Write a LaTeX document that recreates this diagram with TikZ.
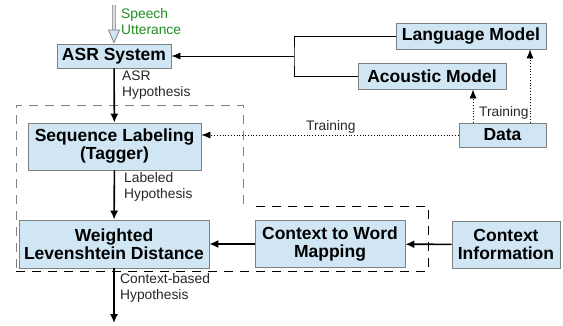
\documentclass[tikz,border=0pt]{standalone}
\usepackage{fontspec}
\setmainfont{Liberation Sans}
\usetikzlibrary{arrows.meta, positioning}

\definecolor{boxfill}{RGB}{208,230,244}
\definecolor{speechgreen}{RGB}{30,140,30}

\begin{document}
\begin{tikzpicture}[x=1pt, y=-1pt,
  block/.style={rectangle, draw=gray, fill=boxfill, line width=0.8pt, inner sep=0pt, text centered, align=center,
    font=\fontsize{17.5}{18}\selectfont\bfseries},
  lbl/.style={anchor=west, align=left, inner sep=0pt, font=\fontsize{13.8}{16}\selectfont, text=black!85},
  arrow/.style={line width=1.6pt, -{Latex[length=9pt, width=8pt]}},
  thinarrow/.style={line width=0.8pt, -{Latex[length=9pt, width=7pt]}},
  dotarrow/.style={line width=0.8pt, dotted, -{Latex[length=9pt, width=7pt]}},
  region/.style={dashed, line width=0.8pt, dash pattern=on 9pt off 7pt}]

  \useasboundingbox (0,0) rectangle (563,325);

  % Nodes
  \node (asr) [block, minimum width=114pt, minimum height=24pt] at (114,56) {ASR System};
  \node (lm) [block, minimum width=150pt, minimum height=26pt] at (471,36) {Language Model};
  \node (am) [block, minimum width=148pt, minimum height=26pt] at (432,76) {Acoustic Model};
  \node (data) [block, minimum width=87pt, minimum height=24pt] at (502.5,135) {Data};
  \node (tagger) [block, minimum width=173pt, minimum height=47pt] at (114.5,146.5) {Sequence Labeling\\(Tagger)};
  \node (wld) [block, minimum width=190pt, minimum height=48pt] at (114,244) {Weighted\\Levenshtein Distance};
  \node (cwm) [block, minimum width=150pt, minimum height=47pt] at (330,244) {Context to Word\\Mapping};
  \node (ctx) [block, minimum width=108pt, minimum height=47pt] at (506,244.5) {Context\\Information};
  \coordinate (speech) at (114,5);
  \coordinate (out) at (114,323);
  \coordinate (fork) at (294,56);

  % Regions
  \draw [region, gray] (243,204) -- (243,105) -- (16,105) -- (16,271);
  \draw [region] (16,271) -- (428,271) -- (428,206) -- (250,206);

  % Arrows
  \draw [line width=4pt, gray!70, shorten >=12pt] (speech) -- (asr.north);
  \draw [line width=2pt, gray!25, shorten >=12pt] (speech) -- (asr.north);
  \draw [line width=0.8pt, gray, shorten <=25pt, -{Triangle[open, fill=boxfill, length=14pt, width=12pt]}] (speech) -- (asr.north);
  \draw [arrow] (asr) -- (tagger);
  \draw [arrow] (tagger) -- (wld);
  \draw [arrow] (cwm) -- (wld);
  \draw [arrow] (ctx) -- (cwm);
  \draw [arrow] (wld) -- (out);
  \draw [line width=0.8pt] (lm.west) -| (fork) |- (am.west);
  \draw [thinarrow] (fork) -- (asr.east);
  \draw [dotarrow] (data.west) -- (data.west -| tagger.east);
  \draw [dotarrow] (data.north -| 473,0) -- (am.south -| 473,0);
  \draw [dotarrow] (data.north -| 530,0) -- (lm.south -| 530,0);

  % Labels
  \node (lspeech) [lbl, text=speechgreen] at (121,22) {Speech\\Utterance};
  \node (lasr) [lbl] at (122,85) {ASR\\Hypothesis};
  \node (ltag) [lbl] at (124,187) {Labeled\\Hypothesis};
  \node (lout) [lbl] at (120,288) {Context-based\\Hypothesis};
  \node (ltrain) [lbl] at (306,127) {Training};
  \node (ltrain2) [lbl] at (479,113) {Training};
\end{tikzpicture}
\end{document}
